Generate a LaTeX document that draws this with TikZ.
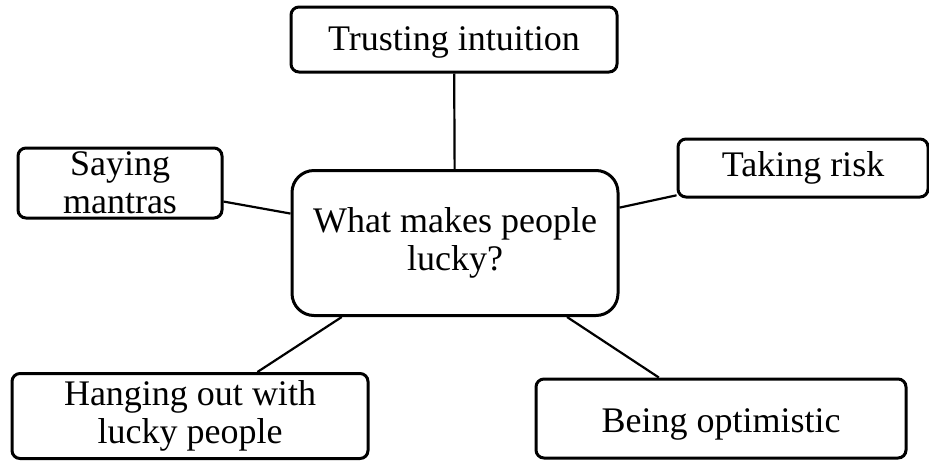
\documentclass[tikz,border=0pt]{standalone}
\usepackage{fontspec}
\setmainfont{Liberation Serif}
\usepackage{tikz}
\usetikzlibrary{positioning}

\begin{document}
\begin{tikzpicture}[x=0.5pt,y=-0.5pt]

\useasboundingbox (0,0) rectangle (929,461);
% \draw[step=50,gray,very thin] (0,0) grid (929,461);

\tikzstyle{ideabox} = [draw, line width=1.5pt, rectangle, rounded corners=4pt, inner sep=0pt, align=center, font=\fontsize{18}{18.8}\selectfont]
\tikzstyle{hubbox} = [ideabox, rounded corners=11pt, minimum width=163pt, minimum height=72.5pt]
\tikzstyle{spoke} = [line width=1.1pt]

\node (lucky) [hubbox] at (455,243) {What makes people\\lucky?};

\node (trust) [ideabox,minimum width=163pt,minimum height=32.5pt,text height=14.4pt] at (454,39.5) {Trusting intuition};
\node (mantra) [ideabox,minimum width=102pt,minimum height=35pt] at (120,183) {Saying\\mantras};
\node (risk) [ideabox,minimum width=125pt,minimum height=29pt] at (803,168) {Taking risk};
\node (hang) [ideabox,minimum width=178pt,minimum height=42.5pt] at (190,416) {Hanging out with\\lucky people};
\node (optim) [ideabox,minimum width=185pt,minimum height=39.5pt,text height=18pt] at (721,418.5) {Being optimistic};

\draw [spoke] (trust) -- (lucky);
\draw [spoke] (mantra) -- (lucky);
\draw [spoke] (risk) -- (lucky);
\draw [spoke] (hang) -- (lucky);
\draw [spoke] (optim) -- (lucky);

\end{tikzpicture}
\end{document}
